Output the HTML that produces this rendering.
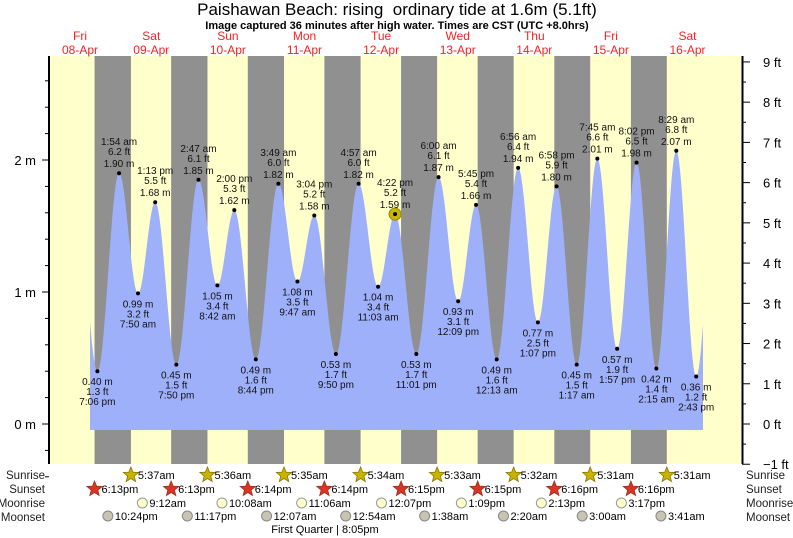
<!DOCTYPE html>
<html><head><meta charset="utf-8"><style>
html,body{margin:0;padding:0;background:#fff;}
svg{display:block;font-family:"Liberation Sans",sans-serif;}
</style></head><body>
<svg id="s" width="793" height="538" xmlns="http://www.w3.org/2000/svg"></svg>
<script>
const S=document.getElementById('s');let h='';
const X=(d,hr)=>36.4+d*76.6+hr*3.192;
const Y=m=>424-m*132;
const T=(s)=>{let [a,b]=s.split(/(am|pm)/);let [hh,mm]=a.trim().split(':').map(Number);if(b=='pm'&&hh!=12)hh+=12;if(b=='am'&&hh==12)hh=0;return hh+mm/60;};
h+=`<rect x="49" y="56" width="694" height="408" fill="#ffffcc"/>`;
const sunset=['6:13pm','6:13pm','6:14pm','6:14pm','6:15pm','6:15pm','6:16pm','6:16pm'];
const sunrise=['5:37am','5:36am','5:35am','5:34am','5:33am','5:32am','5:31am','5:31am'];
for(let d=0;d<8;d++){let x1=X(d,T(sunset[d])),x2=X(d+1,T(sunrise[d]));h+=`<rect x="${x1}" y="56" width="${x2-x1}" height="408" fill="#909090"/>`;}
const ex=[[0,13.0,1.6,''],[0,'7:06pm',0.40,'1.3'],[1,'1:54am',1.90,'6.2'],[1,'7:50am',0.99,'3.2'],[1,'1:13pm',1.68,'5.5'],[1,'7:50pm',0.45,'1.5'],
[2,'2:47am',1.85,'6.1'],[2,'8:42am',1.05,'3.4'],[2,'2:00pm',1.62,'5.3'],[2,'8:44pm',0.49,'1.6'],
[3,'3:49am',1.82,'6.0'],[3,'9:47am',1.08,'3.5'],[3,'3:04pm',1.58,'5.2'],[3,'9:50pm',0.53,'1.7'],
[4,'4:57am',1.82,'6.0'],[4,'11:03am',1.04,'3.4'],[4,'4:22pm',1.59,'5.2'],[4,'11:01pm',0.53,'1.7'],
[5,'6:00am',1.87,'6.1'],[5,'12:09pm',0.93,'3.1'],[5,'5:45pm',1.66,'5.4'],
[6,'12:13am',0.49,'1.6'],[6,'6:56am',1.94,'6.4'],[6,'1:07pm',0.77,'2.5'],[6,'6:58pm',1.80,'5.9'],
[7,'1:17am',0.45,'1.5'],[7,'7:45am',2.01,'6.6'],[7,'1:57pm',0.57,'1.9'],[7,'8:02pm',1.98,'6.5'],
[8,'2:15am',0.42,'1.4'],[8,'8:29am',2.07,'6.8'],[8,'2:43pm',0.36,'1.2'],[8,20.8,1.8,'']];
const P=ex.map(e=>({x:X(e[0],typeof e[1]=='number'?e[1]:T(e[1])),m:e[2],t:e[1],ft:e[3]}));
const x0=90,x1=703;let pts=[];
for(let x=x0;x<=x1;x+=0.5){let i=0;while(P[i+1].x<x)i++;let a=P[i],b=P[i+1];let f=(x-a.x)/(b.x-a.x);let m=a.m+(b.m-a.m)*(1-Math.cos(Math.PI*f))/2;pts.push(x.toFixed(1)+','+Y(m).toFixed(1));}
h+=`<path d="M${x0},430 L${pts.join(' L')} L${x1},430 Z" fill="#9fb0fb"/>`;
const tl=s=>s.replace(/(am|pm)/,' $1');
for(let k=1;k<P.length-1;k++){const p=P[k],y=Y(p.m),hi=p.m>1.3;
 if(k==16)h+=`<circle cx="${p.x}" cy="${y}" r="6" fill="#c8b800" stroke="#998800"/>`;
 h+=`<circle cx="${p.x}" cy="${y}" r="2" fill="#000"/>`;
 const L=hi?[[tl(p.t),-28],[p.ft+' ft',-18],[p.m.toFixed(2)+' m',-6]]:[[p.m.toFixed(2)+' m',14],[p.ft+' ft',24],[tl(p.t),34]];
 for(const [s,dy] of L)h+=`<text x="${p.x}" y="${y+dy}" font-size="10" text-anchor="middle" fill="#111">${s}</text>`;}
h+=`<line x1="49" y1="56" x2="49" y2="464" stroke="#000" stroke-width="2"/><line x1="742.5" y1="56" x2="742.5" y2="464" stroke="#000" stroke-width="2"/>`;
for(let i=-2;i<=14;i++){let y=Y(i*0.2);if(y<56)continue;h+=`<line x1="${i%5==0?42:45}" y1="${y}" x2="49" y2="${y}" stroke="#000"/>`;if(i%5==0)h+=`<text x="36" y="${y+5}" font-size="13" text-anchor="end">${i/5} m</text>`;}
for(let i=-2;i<=18;i++){let y=424-i*0.5*40.23;if(y<56)continue;h+=`<line x1="742" y1="${y}" x2="${i%2==0?750:746}" y2="${y}" stroke="#000"/>`;if(i%2==0)h+=`<text x="763" y="${y+5}" font-size="13">${i<0?'−':''}${Math.abs(i/2)} ft</text>`;}
h+=`<text x="397" y="15" font-size="17" text-anchor="middle">Paishawan Beach: rising&#160; ordinary tide at 1.6m (5.1ft)</text>`;
h+=`<text x="397" y="29" font-size="11" font-weight="bold" text-anchor="middle">Image captured 36 minutes after high water. Times are CST (UTC +8.0hrs)</text>`;
const dn=['Fri','Sat','Sun','Mon','Tue','Wed','Thu','Fri','Sat'];
for(let d=0;d<9;d++){let x=d==0?80:X(d,12);h+=`<text x="${x}" y="40" font-size="12" fill="#ff2020" text-anchor="middle">${dn[d]}</text><text x="${x}" y="54" font-size="12" fill="#ff2020" text-anchor="middle">${String(8+d).padStart(2,'0')}-Apr</text>`;}
const rows=[['Sunrise',479],['Sunset',493],['Moonrise',507],['Moonset',521]];
for(const [n,y] of rows){h+=`<text x="45" y="${y}" font-size="11.5" text-anchor="end" fill="#222">${n}</text><text x="746" y="${y}" font-size="11.5" fill="#222">${n}</text>`;}
const star=(cx,cy,c,sc)=>{let p=[];for(let i=0;i<10;i++){let r=i%2?3.5:8,a=-Math.PI/2+i*Math.PI/5;p.push((cx+r*Math.cos(a)).toFixed(1)+','+(cy+r*Math.sin(a)).toFixed(1));}return `<polygon points="${p}" fill="${c}" stroke="${sc}" stroke-width="0.8"/>`;};
for(let d=0;d<8;d++){let x=X(d+1,T(sunrise[d]));h+=star(x,475,'#c8b400','#887700')+`<text x="${x+7}" y="479" font-size="11">${sunrise[d]}</text>`;
 x=X(d,T(sunset[d]));h+=star(x,489,'#dd3322','#993322')+`<text x="${x+7}" y="493" font-size="11">${sunset[d]}</text>`;}
const mr=[[1,'9:12am'],[2,'10:08am'],[3,'11:06am'],[4,'12:07pm'],[5,'1:09pm'],[6,'2:13pm'],[7,'3:17pm']];
for(const [d,t] of mr){let x=X(d,T(t));h+=`<circle cx="${x}" cy="503" r="5" fill="#ffffcc" stroke="#999"/><text x="${x+7}" y="507" font-size="11">${t}</text>`;}
const ms=[[0,'10:24pm'],[1,'11:17pm'],[3,'12:07am'],[4,'12:54am'],[5,'1:38am'],[6,'2:20am'],[7,'3:00am'],[8,'3:41am']];
for(const [d,t] of ms){let x=X(d,T(t));h+=`<circle cx="${x}" cy="516" r="5" fill="#c8c4b4" stroke="#888"/><text x="${x+7}" y="520" font-size="11">${t}</text>`;}
h+=`<text x="325" y="533" font-size="11" text-anchor="middle">First Quarter | 8:05pm</text>`;
S.innerHTML=h;
</script>
</body></html>
